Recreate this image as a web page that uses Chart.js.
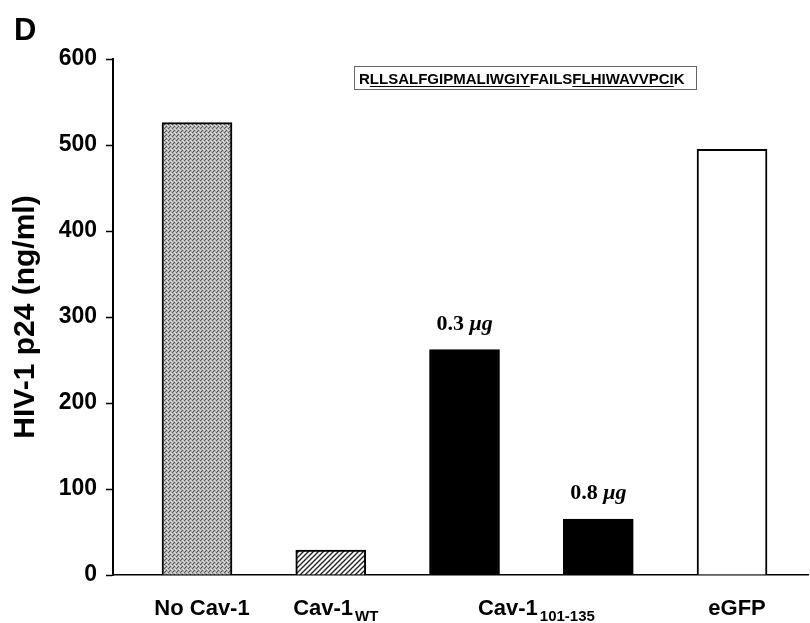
<!DOCTYPE html>
<html>
<head>
<meta charset="utf-8">
<script src="https://cdn.jsdelivr.net/npm/chart.js@4.4.1/dist/chart.umd.min.js"></script>
<style>
  html, body { margin: 0; padding: 0; background: #fff; }
  #wrap { width: 810px; height: 623px; }
</style>
</head>
<body>
<div id="wrap"><canvas id="p24Chart" width="810" height="623"></canvas></div>
<script>
// bars, left to right
const categories = ["No Cav-1", "Cav-1 WT", "Cav-1 101-135 (0.3)", "Cav-1 101-135 (0.8)", "eGFP"];
const p24Values = [526, 29, 262, 65, 495];
const doseLabels = ["", "", "0.3 ", "0.8 ", ""];

// x axis group labels (main text + subscript) and the bars each one sits under
const groupNames = ["No Cav-1", "Cav-1", "Cav-1", "eGFP"];
const groupSubs = ["", "WT", "101-135", ""];
const groupBars = [[0], [1], [2, 3], [4]];

const yTicks = [0, 100, 200, 300, 400, 500, 600];
const peptide = "RLLSALFGIPMALIWGIYFAILSFLHIWAVVPCIK";
const underlined = [[1, 17], [23, 33]];

const SANS = "'Liberation Sans', Arial, sans-serif";
const SERIF = "'Liberation Serif', 'Times New Roman', serif";

function makeTile(size, paint) {
    const c = document.createElement("canvas");
    c.width = size;
    c.height = size;
    paint(c.getContext("2d"));
    return document.createElement("canvas").getContext("2d").createPattern(c, "repeat");
}

// grey stipple for the control bar
const stipple = makeTile(4, (g) => {
    g.fillStyle = "#b0b0b0";
    g.fillRect(0, 0, 4, 4);
    g.fillStyle = "#555";
    g.fillRect(0, 0, 1, 1);
    g.fillRect(2, 2, 1, 1);
    g.fillRect(1, 3, 1, 1);
    g.fillStyle = "#e6e6e6";
    g.fillRect(2, 0, 1, 1);
    g.fillRect(0, 2, 1, 1);
    g.fillRect(3, 1, 1, 1);
});

// "/" hatching for the wild type bar
const hatch = makeTile(5, (g) => {
    g.fillStyle = "#fff";
    g.fillRect(0, 0, 5, 5);
    g.strokeStyle = "#222";
    g.lineWidth = 1.4;
    g.beginPath();
    g.moveTo(-1, 6); g.lineTo(6, -1);
    g.moveTo(-3, 3); g.lineTo(3, -3);
    g.moveTo(2, 8); g.lineTo(8, 2);
    g.stroke();
});

const barFills = [stipple, hatch, "#000", "#000", "#fff"];

const annotations = {
    id: "annotations",
    afterDraw(chart) {
        const ctx = chart.ctx;
        const xs = chart.scales.x;
        const meta = chart.getDatasetMeta(0);
        ctx.save();
        ctx.fillStyle = "#000";

        // panel letter
        ctx.font = "bold 31px " + SANS;
        ctx.textAlign = "left";
        ctx.textBaseline = "alphabetic";
        ctx.fillText("D", 14, 40);

        // peptide sequence box
        ctx.strokeStyle = "#666";
        ctx.lineWidth = 1;
        ctx.strokeRect(354.5, 66.5, 342, 23);
        ctx.font = "bold 15px " + SANS;
        const tx = 359, ty = 84;
        ctx.fillText(peptide, tx, ty);
        ctx.strokeStyle = "#000";
        ctx.lineWidth = 1;
        underlined.forEach(([a, b]) => {
            const x0 = tx + ctx.measureText(peptide.slice(0, a)).width;
            const x1 = tx + ctx.measureText(peptide.slice(0, b + 1)).width;
            ctx.beginPath();
            ctx.moveTo(x0, ty + 2.5);
            ctx.lineTo(x1, ty + 2.5);
            ctx.stroke();
        });

        // dose labels above the peptide bars
        meta.data.forEach((bar, i) => {
            if (!doseLabels[i]) return;
            ctx.font = "bold 22px " + SERIF;
            const w1 = ctx.measureText(doseLabels[i]).width;
            ctx.font = "italic bold 22px " + SERIF;
            const w2 = ctx.measureText("\u03bcg").width;
            const x = bar.x - (w1 + w2) / 2;
            const y = bar.y - 20;
            ctx.textAlign = "left";
            ctx.font = "bold 22px " + SERIF;
            ctx.fillText(doseLabels[i], x, y);
            ctx.font = "italic bold 22px " + SERIF;
            ctx.fillText("\u03bcg", x + w1, y);
        });

        // category labels under the axis
        groupNames.forEach((name, i) => {
            const cx = groupBars[i].reduce((s, k) => s + xs.getPixelForValue(k + 1), 0) / groupBars[i].length;
            ctx.font = "bold 22px " + SANS;
            const wMain = ctx.measureText(name).width;
            ctx.font = "bold 15px " + SANS;
            const wSub = groupSubs[i] ? ctx.measureText(groupSubs[i]).width + 2 : 0;
            const x = cx - (wMain + wSub) / 2 + 5;
            ctx.textAlign = "left";
            ctx.font = "bold 22px " + SANS;
            ctx.fillText(name, x, 615);
            if (groupSubs[i]) {
                ctx.font = "bold 15px " + SANS;
                ctx.fillText(groupSubs[i], x + wMain + 2, 621);
            }
        });
        ctx.restore();
    }
};

const ctx = document.getElementById("p24Chart").getContext("2d");

new Chart(ctx, {
    type: "bar",
    data: {
        labels: categories,
        datasets: [{
            data: p24Values.map((v, i) => ({ x: i + 1, y: v })),
            backgroundColor: barFills,
            borderColor: "#000",
            borderWidth: 2,
            barThickness: 70
        }]
    },
    options: {
        responsive: false,
        animation: false,
        devicePixelRatio: 1,
        layout: { padding: { top: 59, right: 2, left: 0, bottom: 0 } },
        plugins: {
            legend: { display: false },
            tooltip: { enabled: false }
        },
        scales: {
            x: {
                type: "linear",
                offset: false,
                min: 0.372,
                max: 5.568,
                grid: { display: false },
                border: { display: true, color: "#000", width: 1.5 },
                ticks: { display: false },
                afterFit: (scale) => { scale.height = 48; }
            },
            y: {
                min: 0,
                max: 600,
                afterBuildTicks: (scale) => { scale.ticks = yTicks.map(v => ({ value: v })); },
                grid: {
                    display: true,
                    drawOnChartArea: false,
                    drawTicks: true,
                    tickLength: 7,
                    tickWidth: 1.5,
                    tickColor: "#000"
                },
                border: { display: true, color: "#000", width: 2 },
                ticks: {
                    color: "#000",
                    padding: 9,
                    font: { family: SANS, size: 23, weight: "bold" }
                },
                title: {
                    display: true,
                    text: "HIV-1 p24 (ng/ml)",
                    color: "#000",
                    padding: { top: 8, bottom: 0 },
                    font: { family: SANS, size: 30, weight: "bold" }
                },
                afterFit: (scale) => { scale.width = 113; }
            }
        }
    },
    plugins: [annotations]
});
</script>
</body>
</html>
